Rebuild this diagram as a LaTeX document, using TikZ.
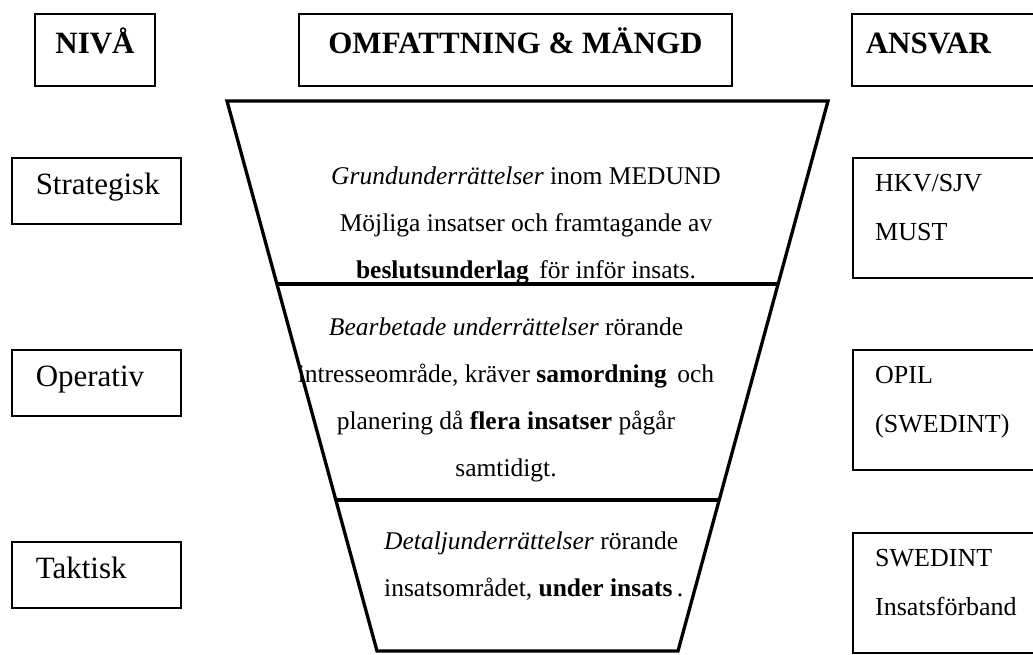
\documentclass[tikz,border=0pt]{standalone}
\usepackage{fontspec}
\setmainfont{Liberation Serif}
\usetikzlibrary{positioning,calc}

\tikzset{
  headbox/.style={draw, line width=1.5pt, anchor=north, font=\fontsize{31}{37}\selectfont\bfseries,
    text height=21pt, text depth=14pt, inner ysep=18.5pt},
  levelbox/.style={draw, line width=1.5pt, anchor=north west, font=\fontsize{31}{37}\selectfont,
    text width=121pt, align=left, inner xsep=24pt, text height=21pt, text depth=13pt, inner ysep=16pt},
  dutybox/.style={draw, line width=1.5pt, anchor=north west, minimum width=240pt, minimum height=120pt},
  dutytext/.style={anchor=north west, inner sep=0pt, align=left, font=\fontsize{26}{49}\selectfont},
  funnel/.style={line width=3.3pt},
  funneltext/.style={inner sep=0pt, align=center, font=\fontsize{25.5}{47}\selectfont}
}

\begin{document}
\begin{tikzpicture}[x=1pt, y=-1pt]
\useasboundingbox (0,0) rectangle (1033,654);
\clip (0,0) rectangle (1033,654);

% headers
\node [headbox, minimum width=120pt] (niva) at (95,13) {NIVÅ};
\node [headbox, minimum width=433pt] (omf) at (515.5,13) {OMFATTNING \& MÄNGD};
\node [headbox, anchor=north west, text width=200pt, align=left, inner xsep=14pt] (ansvar) at (851,13) {ANSVAR};

% levels
\node [levelbox] (strat) at (11,157) {Strategisk};
\node [levelbox] (oper) at (11,349) {Operativ};
\node [levelbox] (takt) at (11,541) {Taktisk};

% funnel
\coordinate (tl) at (227,101);
\coordinate (tr) at (828,101);
\coordinate (br) at (678,651);
\coordinate (bl) at (377,651);
\draw [funnel] (tl) -- (tr) -- (br) -- (bl) -- cycle;
\draw [funnel] ($(tl)!0.3327!(bl)$) -- ($(tr)!0.3327!(br)$);
\draw [funnel] ($(tl)!0.7255!(bl)$) -- ($(tr)!0.7255!(br)$);

\node [funneltext] (grund) at (526,225) {\textit{Grundunderrättelser} inom MEDUND\\
  Möjliga insatser och framtagande av\\
  \textbf{beslutsunderlag}\, för inför insats.};
\node [funneltext] (bearb) at (506,399.5) {\textit{Bearbetade underrättelser} rörande\\
  intresseområde, kräver \textbf{samordning}\, och\\
  planering då \textbf{flera insatser} pågår\\
  samtidigt.};
\node [funneltext, align=left, anchor=west] (detalj) at (384,566) {\textit{Detaljunderrättelser} rörande\\
  insatsområdet, \textbf{under insats}\,.};

% responsibility
\node [dutybox] (hkvbox) at (852,157) {};
\node [dutytext, below right=17pt and 23pt of hkvbox.north west] (hkv) {HKV/SJV\\MUST};
\node [dutybox] (opilbox) at (852,349) {};
\node [dutytext, below right=17pt and 23pt of opilbox.north west] (opil) {OPIL\\(SWEDINT)};
\node [dutybox] (swedbox) at (852,532) {};
\node [dutytext, below right=17pt and 23pt of swedbox.north west] (swed) {SWEDINT\\Insatsförband};
\end{tikzpicture}
\end{document}
